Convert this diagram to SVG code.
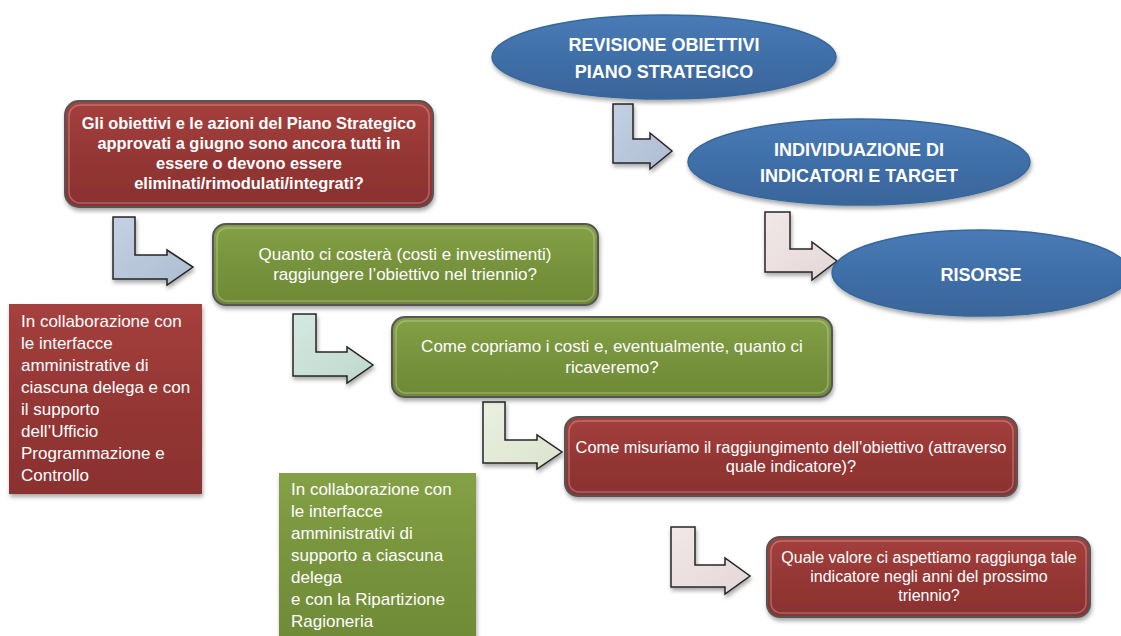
<svg xmlns="http://www.w3.org/2000/svg" width="1121" height="636" viewBox="0 0 1121 636">
<defs>
<style>
.t{font-family:"Liberation Sans",Arial,sans-serif;fill:#ffffff}
.b{font-weight:bold}
.c{text-anchor:middle}
.box{stroke:#555555;stroke-width:2}
.hl{fill:none;stroke:#ffffff;stroke-opacity:0.25;stroke-width:1.5}
.arr{stroke:#262626;stroke-width:1.5;stroke-linejoin:miter}
.ell{stroke:#36679b;stroke-width:1.5}
</style>
<linearGradient id="gRed" x1="0" y1="0" x2="0" y2="1">
<stop offset="0" stop-color="#a5403d"/>
<stop offset="0.5" stop-color="#953735"/>
<stop offset="1" stop-color="#8a312f"/>
</linearGradient>
<linearGradient id="gGreen" x1="0" y1="0" x2="0" y2="1">
<stop offset="0" stop-color="#84a146"/>
<stop offset="0.5" stop-color="#77933c"/>
<stop offset="1" stop-color="#6f8a37"/>
</linearGradient>
<linearGradient id="gBlue" x1="0" y1="0" x2="0" y2="1">
<stop offset="0" stop-color="#4a7bb6"/>
<stop offset="0.5" stop-color="#3f6fa8"/>
<stop offset="1" stop-color="#3a659a"/>
</linearGradient>
<linearGradient id="aBlue" x1="0" y1="0" x2="1" y2="1">
<stop offset="0" stop-color="#c4d0e2"/>
<stop offset="1" stop-color="#aebdd3"/>
</linearGradient>
<linearGradient id="aPink" x1="0" y1="0" x2="1" y2="1">
<stop offset="0" stop-color="#f2e8e8"/>
<stop offset="1" stop-color="#e4d6d7"/>
</linearGradient>
<linearGradient id="aMint" x1="0" y1="0" x2="1" y2="1">
<stop offset="0" stop-color="#d4e8e0"/>
<stop offset="1" stop-color="#bfd9ce"/>
</linearGradient>
<linearGradient id="aSage" x1="0" y1="0" x2="1" y2="1">
<stop offset="0" stop-color="#ebf0e1"/>
<stop offset="1" stop-color="#dbe3cc"/>
</linearGradient>
<filter id="sh" x="-10%" y="-10%" width="120%" height="130%">
<feGaussianBlur in="SourceAlpha" stdDeviation="2"/>
<feOffset dx="1" dy="3" result="o"/>
<feComponentTransfer><feFuncA type="linear" slope="0.35"/></feComponentTransfer>
<feMerge><feMergeNode/><feMergeNode in="SourceGraphic"/></feMerge>
</filter>
</defs>
<rect width="1121" height="636" fill="#ffffff"/>

<g id="connectors">
<path class="arr" fill="url(#aBlue)" filter="url(#sh)" d="M613,104 H633 V139 H650 V133 L672,151 L650,169 V163 H613 Z"/>
<path class="arr" fill="url(#aPink)" filter="url(#sh)" d="M765,212 H790 V249 H812 V242 L837,261 L812,280 V272 H765 Z"/>
<path class="arr" fill="url(#aBlue)" filter="url(#sh)" d="M113,217 H135 V255 H167 V250 L193,267 L167,285 V279 H113 Z"/>
<path class="arr" fill="url(#aMint)" filter="url(#sh)" d="M293,314 H316 V352 H347 V347 L373,365 L347,383 V376 H293 Z"/>
<path class="arr" fill="url(#aSage)" filter="url(#sh)" d="M483,402 H505 V440 H537 V435 L562,452 L537,469 V463 H483 Z"/>
<path class="arr" fill="url(#aPink)" filter="url(#sh)" d="M671,527 H695 V565 H725 V558 L750,576 L725,594 V587 H671 Z"/>
</g>

<g id="revisione">
<ellipse class="ell" cx="664" cy="57" rx="172" ry="42" fill="url(#gBlue)" filter="url(#sh)"/>
<text class="t b c" x="664" y="51" font-size="18">REVISIONE OBIETTIVI</text>
<text class="t b c" x="664" y="78" font-size="18">PIANO STRATEGICO</text>
</g>

<g id="indicatori">
<ellipse class="ell" cx="859" cy="162" rx="171" ry="43" fill="url(#gBlue)" filter="url(#sh)"/>
<text class="t b c" x="859" y="156" font-size="18">INDIVIDUAZIONE DI</text>
<text class="t b c" x="859" y="182" font-size="18">INDICATORI E TARGET</text>
</g>

<g id="risorse">
<ellipse class="ell" cx="981" cy="273" rx="149" ry="43" fill="url(#gBlue)" filter="url(#sh)"/>
<text class="t b c" x="981" y="281" font-size="18">RISORSE</text>
</g>

<g id="obiettivi">
<rect class="box" x="65" y="101" width="368" height="106" rx="14" fill="url(#gRed)" filter="url(#sh)"/>
<rect class="hl" x="69" y="105" width="360" height="98" rx="11"/>
<text class="t b c" x="249" y="129" font-size="16.4">Gli obiettivi e le azioni del Piano Strategico</text>
<text class="t b c" x="249" y="149" font-size="16.4">approvati a giugno sono ancora tutti in</text>
<text class="t b c" x="249" y="169" font-size="16.4">essere o devono essere</text>
<text class="t b c" x="249" y="189" font-size="16.4">eliminati/rimodulati/integrati?</text>
</g>

<g id="costi">
<rect class="box" x="213" y="224" width="385" height="81" rx="13" fill="url(#gGreen)" filter="url(#sh)"/>
<rect class="hl" x="217" y="228" width="377" height="73" rx="10"/>
<text class="t c" x="405" y="260" font-size="17">Quanto ci costerà (costi e investimenti)</text>
<text class="t c" x="405" y="280" font-size="17">raggiungere l’obiettivo nel triennio?</text>
</g>

<g id="collab-programmazione">
<rect x="9" y="304" width="193" height="190" fill="url(#gRed)" filter="url(#sh)"/>
<text class="t" font-size="17">
<tspan x="21" y="327">In collaborazione con</tspan>
<tspan x="21" y="349">le interfacce</tspan>
<tspan x="21" y="371">amministrative di</tspan>
<tspan x="21" y="393">ciascuna delega e con</tspan>
<tspan x="21" y="415">il supporto</tspan>
<tspan x="21" y="437">dell’Ufficio</tspan>
<tspan x="21" y="459">Programmazione e</tspan>
<tspan x="21" y="481">Controllo</tspan>
</text>
</g>

<g id="copertura">
<rect class="box" x="392" y="317" width="440" height="80" rx="13" fill="url(#gGreen)" filter="url(#sh)"/>
<rect class="hl" x="396" y="321" width="432" height="72" rx="10"/>
<text class="t c" x="612" y="352" font-size="17">Come copriamo i costi e, eventualmente, quanto ci</text>
<text class="t c" x="612" y="373" font-size="17">ricaveremo?</text>
</g>

<g id="misura">
<rect class="box" x="565" y="417" width="452" height="79" rx="13" fill="url(#gRed)" filter="url(#sh)"/>
<rect class="hl" x="569" y="421" width="444" height="71" rx="10"/>
<text class="t c" x="791" y="453" font-size="16.4">Come misuriamo il raggiungimento dell’obiettivo (attraverso</text>
<text class="t c" x="791" y="472" font-size="16.4">quale indicatore)?</text>
</g>

<g id="collab-ragioneria">
<rect x="279" y="473" width="197" height="175" fill="url(#gGreen)" filter="url(#sh)"/>
<text class="t" font-size="17">
<tspan x="291" y="495">In collaborazione con</tspan>
<tspan x="291" y="517">le interfacce</tspan>
<tspan x="291" y="539">amministrativi di</tspan>
<tspan x="291" y="561">supporto a ciascuna</tspan>
<tspan x="291" y="583">delega</tspan>
<tspan x="291" y="605">e con la Ripartizione</tspan>
<tspan x="291" y="627">Ragioneria</tspan>
</text>
</g>

<g id="valore">
<rect class="box" x="767" y="537" width="323" height="80" rx="13" fill="url(#gRed)" filter="url(#sh)"/>
<rect class="hl" x="771" y="541" width="315" height="72" rx="10"/>
<text class="t c" x="929" y="563" font-size="16">Quale valore ci aspettiamo raggiunga tale</text>
<text class="t c" x="929" y="582" font-size="16">indicatore negli anni del prossimo</text>
<text class="t c" x="929" y="601" font-size="16">triennio?</text>
</g>
</svg>
